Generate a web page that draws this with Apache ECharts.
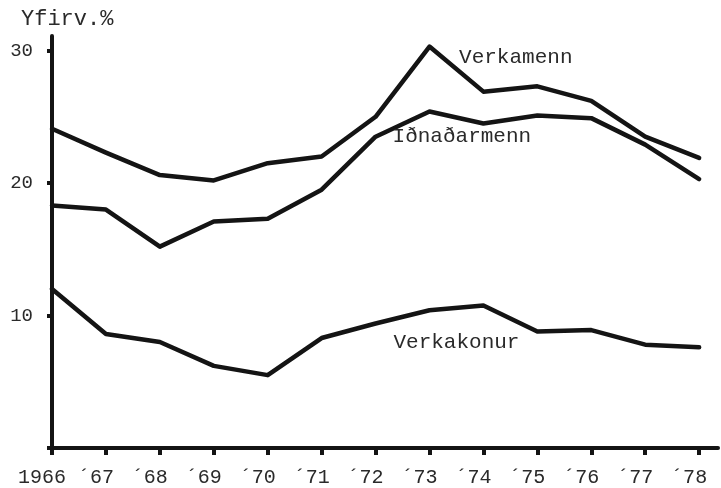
<!DOCTYPE html>
<html>
<head>
<meta charset="utf-8">
<style>
  html, body { margin: 0; padding: 0; background: #fff; }
  #chart { width: 721px; height: 488px; }
</style>
<script src="https://cdn.jsdelivr.net/npm/echarts@6/dist/echarts.min.js"></script>
</head>
<body>
<div id="chart"></div>
<script>
const years = [1966, 1967, 1968, 1969, 1970, 1971, 1972, 1973, 1974, 1975, 1976, 1977, 1978];
const yearLabels = ["1966", "´67", "´68", "´69", "´70", "´71", "´72", "´73", "´74", "´75", "´76", "´77", "´78"];
const verkamenn = [24.1, 22.3, 20.6, 20.2, 21.5, 22.0, 25.0, 30.3, 26.9, 27.3, 26.2, 23.5, 21.9];
const idnadarmenn = [18.3, 18.0, 15.2, 17.1, 17.3, 19.5, 23.5, 25.4, 24.5, 25.1, 24.9, 22.9, 20.3];
const verkakonur = [12.0, 8.6, 8.0, 6.2, 5.5, 8.3, 9.4, 10.4, 10.75, 8.8, 8.9, 7.8, 7.6];
const yTicks = [10, 20, 30];
// where the series names sit, in data units
const nameSpots = [
  ["Verkamenn", 1974.6, 29.5],
  ["Iðnaðarmenn", 1973.6, 23.5],
  ["Verkakonur", 1973.5, 8.0],
];

const font = "Liberation Mono";
const ink = "#141414";
const textInk = "#2a2a2a";

function pairs(vals) {
  return years.map((y, i) => [y, vals[i]]);
}

function lineSeries(name, vals, spot) {
  return {
    name: name,
    type: "line",
    data: pairs(vals),
    symbol: "none",
    smooth: false,
    lineStyle: { color: ink, width: 4.5, join: "round", cap: "round" },
    z: 3,
    markPoint: {
      symbol: "circle",
      symbolSize: 0,
      silent: true,
      data: [{ coord: [spot[1], spot[2]], value: spot[0] }],
      label: {
        show: true,
        position: "inside",
        formatter: spot[0],
        color: textInk,
        fontFamily: font,
        fontSize: 21,
      },
    },
  };
}

const myChart = echarts.init(document.getElementById("chart"));
const option = {
  animation: false,
  backgroundColor: "#fff",
  grid: { left: 52, right: 3, top: 36, bottom: 38 },
  graphic: [
    {
      type: "text",
      left: 21,
      top: 8,
      style: { text: "Yfirv.%", font: "22px " + font, fill: textInk },
    },
  ],
  xAxis: {
    type: "value",
    min: 1966,
    max: 1978.35,
    interval: 1,
    splitLine: { show: false },
    axisLine: { show: true, lineStyle: { color: ink, width: 4 } },
    axisTick: {
      show: true,
      inside: false,
      length: 7,
      lineStyle: { color: ink, width: 4 },
    },
    axisLabel: {
      show: true,
      color: textInk,
      fontFamily: font,
      fontSize: 20,
      margin: 20,
      padding: [0, 20, 0, 0],
      showMaxLabel: false,
      formatter: (v) => {
        const i = years.indexOf(Math.round(v));
        return Math.abs(v - Math.round(v)) < 1e-6 && i >= 0 ? yearLabels[i] : "";
      },
    },
  },
  yAxis: {
    type: "value",
    min: 0,
    max: 31.1,
    interval: 10,
    splitLine: { show: false },
    axisLine: { show: true, lineStyle: { color: ink, width: 4 } },
    axisTick: {
      show: true,
      length: 5,
      lineStyle: { color: ink, width: 4 },
    },
    axisLabel: {
      show: true,
      color: textInk,
      fontFamily: font,
      fontSize: 19,
      margin: 19,
      showMaxLabel: false,
      formatter: (v) => (yTicks.indexOf(v) >= 0 ? String(v) : ""),
    },
  },
  series: [
    lineSeries("Verkamenn", verkamenn, nameSpots[0]),
    lineSeries("Iðnaðarmenn", idnadarmenn, nameSpots[1]),
    lineSeries("Verkakonur", verkakonur, nameSpots[2]),
  ],
};
option && myChart.setOption(option);
</script>
</body>
</html>
